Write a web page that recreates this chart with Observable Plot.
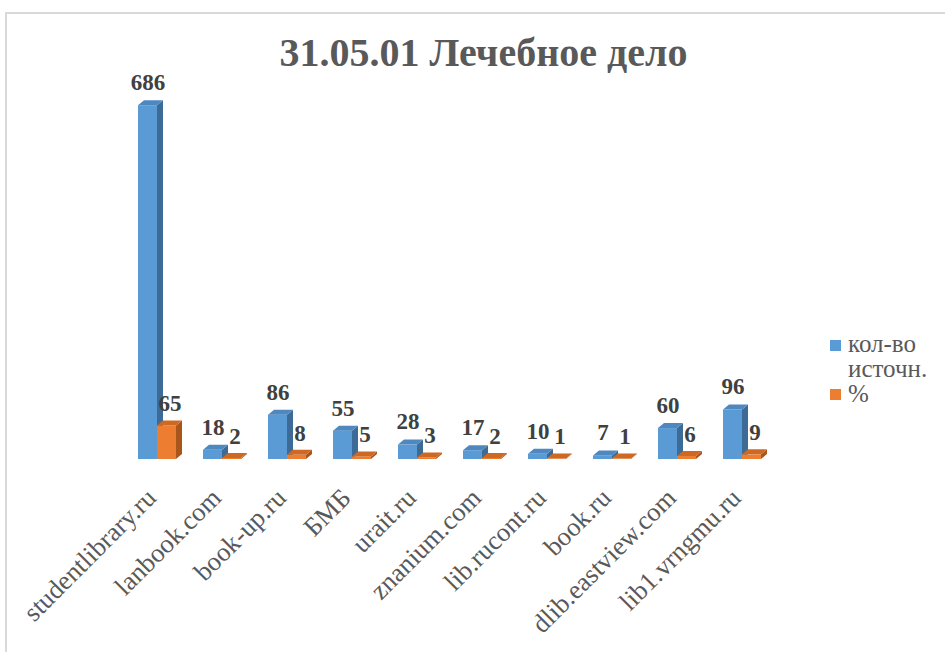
<!DOCTYPE html>
<html><head><meta charset="utf-8">
<script src="https://cdn.jsdelivr.net/npm/d3@7"></script>
<script src="https://cdn.jsdelivr.net/npm/@observablehq/plot@0.6"></script>
<style>
html,body{margin:0;padding:0;background:#fff;}
#wrap{position:relative;width:945px;height:652px;overflow:hidden;font-family:"Liberation Serif","Times New Roman","DejaVu Serif",serif;}
#frame{position:absolute;left:5px;top:12px;width:1200px;height:900px;border-left:2px solid #d9d9d9;border-top:2px solid #d9d9d9;}
#title{position:absolute;left:0;width:967px;top:33px;text-align:center;font-family:"Liberation Serif","Times New Roman",serif;font-size:40px;font-weight:bold;color:#595959;line-height:40px;white-space:nowrap;}
#chart{position:absolute;left:0;top:0;}
.lg{position:absolute;font-family:"Liberation Serif","Times New Roman",serif;font-size:25px;line-height:25px;color:#595959;}
.sq{position:absolute;width:11px;height:11px;}
</style>
</head><body>
<div id="wrap">
  <div id="frame"></div>
  <div id="chart"></div>
  <div id="title"></div>
  <div id="legend"></div>
</div>
<script>
const title = "31.05.01 Лечебное дело";
const categories = ["studentlibrary.ru","lanbook.com","book-up.ru","БМБ","urait.ru","znanium.com","lib.rucont.ru","book.ru","dlib.eastview.com","lib1.vrngmu.ru"];
const counts   = [686, 18, 86, 55, 28, 17, 10, 7, 60, 96];
const percents = [65, 2, 8, 5, 3, 2, 1, 1, 6, 9];
const seriesNames = ["кол-во источн.", "%"];
const seriesFront = ["#5B9BD5", "#ED7D31"];
const seriesSide  = ["#3C6B97", "#A9561D"];
const seriesTop   = ["#4E88C0", "#CE6923"];

document.getElementById("title").textContent = title;

// geometry (in scale units)
const STEP_PX = 65, BAR_PX = 19, DEPTH_X_PX = 6, DEPTH_Y_PX = 5;
const W = BAR_PX / STEP_PX, DX = DEPTH_X_PX / STEP_PX;
const yMax = 700;
const marginTop = 98, marginBottom = 193, H = 652;
const DY = DEPTH_Y_PX / ((H - marginTop - marginBottom) / yMax);

const bars = [];
[counts, percents].forEach((vals, s) => vals.forEach((v, i) => {
  const xl = s === 0 ? i - W : i;
  bars.push({s, i, v, xl, xr: xl + W, key: s + "-" + i});
}));

function faces(sel) {
  const side = [], top = [];
  bars.filter(sel).forEach(b => {
    side.push({x: b.xr, y1: 0, y2: b.v, k: b.key});
    side.push({x: b.xr + DX, y1: DY, y2: b.v + DY, k: b.key});
    top.push({x: b.xl, y1: b.v, y2: b.v, k: b.key});
    top.push({x: b.xl + DX, y1: b.v, y2: b.v + DY, k: b.key});
    top.push({x: b.xr, y1: b.v, y2: b.v + DY, k: b.key});
    top.push({x: b.xr + DX, y1: b.v + DY, y2: b.v + DY, k: b.key});
  });
  return {side, top};
}

const marks = [];
[0, 1].forEach(s => {
  const f = faces(b => b.s === s);
  marks.push(Plot.areaY(f.side, {x: "x", y1: "y1", y2: "y2", z: "k", fill: seriesSide[s]}));
  marks.push(Plot.rectY(bars.filter(b => b.s === s), {x1: "xl", x2: "xr", y1: 0, y2: "v", fill: seriesFront[s]}));
  marks.push(Plot.areaY(f.top, {x: "x", y1: "y1", y2: "y2", z: "k", fill: seriesTop[s]}));
});
const labelFont = "Liberation Serif, Times New Roman, serif";
marks.push(Plot.text(bars.filter(b => b.s === 0), {x: b => b.xl + W / 2, y: "v", text: "v", dy: -23, fill: "#404040", fontWeight: "bold", fontSize: 23, fontFamily: labelFont}));
marks.push(Plot.text(bars.filter(b => b.s === 1), {x: b => b.xl + W / 2, y: "v", text: "v", dx: 3, dy: -22, fill: "#404040", fontWeight: "bold", fontSize: 23, fontFamily: labelFont}));

const tickOpts = {ticks: d3.range(categories.length), tickFormat: i => categories[i], tickRotate: -45, tickSize: 0};
let xOpts = {type: "linear", domain: [-0.5, categories.length - 0.5], label: null};
if (Plot.axisX) {
  marks.push(Plot.axisX({...tickOpts, tickPadding: 34, dx: -6, fontSize: 26.5, fontFamily: labelFont, fill: "#595959", label: null}));
} else {
  xOpts = {...xOpts, ...tickOpts, tickPadding: 28};
}

const chart = Plot.plot({
  width: 945,
  height: H,
  marginTop, marginBottom,
  marginLeft: 124.5,
  marginRight: 170.5,
  style: {fontFamily: labelFont, fontSize: "26.5px", color: "#595959", background: "transparent", overflow: "visible"},
  x: xOpts,
  y: {domain: [0, yMax], axis: null},
  marks
});
document.getElementById("chart").appendChild(chart);

const lg = document.getElementById("legend");
lg.innerHTML =
  `<div class="sq" style="left:830px;top:340px;background:${seriesFront[0]}"></div>` +
  `<div class="lg" style="left:848px;top:331px">кол-во<br>источн.</div>` +
  `<div class="sq" style="left:830px;top:389px;background:${seriesFront[1]}"></div>` +
  `<div class="lg" style="left:848px;top:381px">%</div>`;
</script>
</body></html>
